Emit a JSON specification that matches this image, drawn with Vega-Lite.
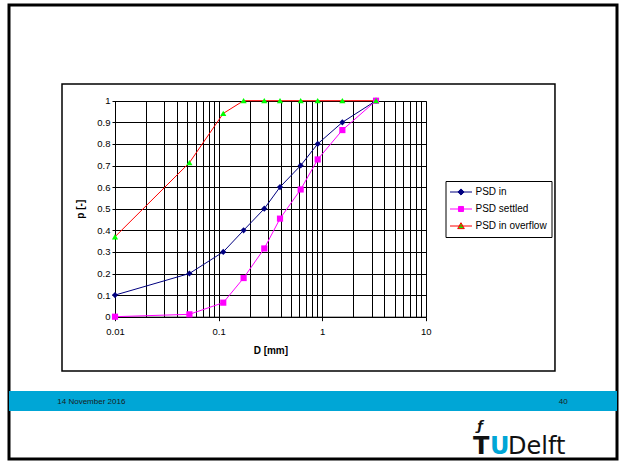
{
  "$schema": "https://vega.github.io/schema/vega-lite/v6.json",
  "width": 608,
  "height": 454,
  "autosize": {"type": "none"},
  "padding": {"left": 9, "top": 5, "right": 4, "bottom": 2},
  "background": "white",
  "config": {"view": {"stroke": "black", "strokeWidth": 3}, "font": "Liberation Sans"},
  "resolve": {"axis": {"x": "independent"}},
  "datasets": {
    "psd": [
      {"D": 0.01, "p": 0.1, "series": "PSD in"},
      {"D": 0.0523, "p": 0.2, "series": "PSD in"},
      {"D": 0.111, "p": 0.3, "series": "PSD in"},
      {"D": 0.1745, "p": 0.4, "series": "PSD in"},
      {"D": 0.2764, "p": 0.5, "series": "PSD in"},
      {"D": 0.392, "p": 0.6, "series": "PSD in"},
      {"D": 0.6207, "p": 0.7, "series": "PSD in"},
      {"D": 0.906, "p": 0.8, "series": "PSD in"},
      {"D": 1.568, "p": 0.9, "series": "PSD in"},
      {"D": 3.314, "p": 1.0, "series": "PSD in"},
      {"D": 0.01, "p": 0.0, "series": "PSD settled"},
      {"D": 0.0523, "p": 0.011, "series": "PSD settled"},
      {"D": 0.111, "p": 0.065, "series": "PSD settled"},
      {"D": 0.1745, "p": 0.179, "series": "PSD settled"},
      {"D": 0.2764, "p": 0.316, "series": "PSD settled"},
      {"D": 0.392, "p": 0.454, "series": "PSD settled"},
      {"D": 0.6207, "p": 0.589, "series": "PSD settled"},
      {"D": 0.906, "p": 0.728, "series": "PSD settled"},
      {"D": 1.568, "p": 0.864, "series": "PSD settled"},
      {"D": 3.314, "p": 1.0, "series": "PSD settled"},
      {"D": 0.01, "p": 0.37, "series": "PSD in overflow"},
      {"D": 0.0523, "p": 0.713, "series": "PSD in overflow"},
      {"D": 0.111, "p": 0.941, "series": "PSD in overflow"},
      {"D": 0.1745, "p": 1.0, "series": "PSD in overflow"},
      {"D": 0.2764, "p": 1.0, "series": "PSD in overflow"},
      {"D": 0.392, "p": 1.0, "series": "PSD in overflow"},
      {"D": 0.6207, "p": 1.0, "series": "PSD in overflow"},
      {"D": 0.906, "p": 1.0, "series": "PSD in overflow"},
      {"D": 1.568, "p": 1.0, "series": "PSD in overflow"},
      {"D": 3.314, "p": 1.0, "series": "PSD in overflow"}
    ]
  },
  "layer": [
    {
      "data": {"name": "psd"},
      "mark": {"type": "line", "strokeWidth": 1},
      "encoding": {
        "x": {
          "field": "D", "type": "quantitative", "title": "D [mm]",
          "scale": {"type": "log", "domain": [0.01, 10], "range": [106, 416.7], "nice": false},
          "axis": {
            "orient": "bottom",
            "values": [0.01, 0.02, 0.03, 0.04, 0.05, 0.06, 0.07, 0.08, 0.09, 0.1, 0.2, 0.3, 0.4, 0.5, 0.6, 0.7, 0.8, 0.9, 1, 2, 3, 4, 5, 6, 7, 8, 9, 10],
            "labelExpr": "(datum.value == 0.01 || datum.value == 0.1 || datum.value == 1 || datum.value == 10) ? format(datum.value, '~g') : ''",
            "offset": -142.3,
            "grid": false,
            "domain": true, "domainColor": "black", "domainWidth": 1,
            "ticks": true, "tickColor": "black", "tickSize": 4, "tickWidth": 1,
            "tickOpacity": {"condition": {"test": "datum.value == 0.01 || datum.value == 0.1 || datum.value == 1 || datum.value == 10", "value": 1}, "value": 0},
            "labelFontSize": 9.5, "labelColor": "black", "labelPadding": 6, "labelFlush": false, "labelOverlap": false, "labelBound": false,
            "title": "D [mm]", "titleFontSize": 10, "titleFontWeight": "bold", "titleColor": "black", "titlePadding": 9
          }
        },
        "y": {
          "field": "p", "type": "quantitative", "title": "p [-]",
          "scale": {"type": "linear", "domain": [0, 1], "range": [311.7, 95.7], "nice": false, "zero": false},
          "axis": {
            "values": [0, 0.1, 0.2, 0.3, 0.4, 0.5, 0.6, 0.7, 0.8, 0.9, 1],
            "format": "~g",
            "offset": -106,
            "grid": true, "gridColor": "black", "gridOpacity": 1, "gridWidth": 1,
            "domain": true, "domainColor": "black", "domainWidth": 1,
            "ticks": true, "tickColor": "black", "tickSize": 3, "tickWidth": 1,
            "labelFontSize": 9.5, "labelColor": "black", "labelPadding": 2, "labelOverlap": false, "labelBound": false,
            "title": "p [-]", "titleFontSize": 10, "titleFontWeight": "bold", "titleColor": "black", "titlePadding": 11
          }
        },
        "stroke": {
          "field": "series", "type": "nominal",
          "scale": {"domain": ["PSD in", "PSD settled", "PSD in overflow"], "range": ["#000080", "#FF00FF", "#FF0000"]},
          "legend": {
            "orient": "none", "legendX": 436.5, "legendY": 176,
            "title": null, "padding": 4, "strokeColor": "black", "fillColor": "white", "cornerRadius": 0,
            "symbolSize": 484, "symbolStrokeWidth": 1, "clipHeight": 14, "rowPadding": 3,
            "labelOffset": 3, "labelFontSize": 10, "labelColor": "black", "labelFont": "Liberation Sans",
            "encode": {
              "symbols": {
                "update": {
                  "shape": {"signal": "datum.value === 'PSD in' ? 'M-1,0L1,0M0,-0.28L0.28,0L0,0.28L-0.28,0Z' : datum.value === 'PSD settled' ? 'M-1,0L1,0M-0.23,-0.23L0.23,-0.23L0.23,0.23L-0.23,0.23Z' : 'M-1,0L1,0M0,-0.3L0.3,0.24L-0.3,0.24Z'"},
                  "fill": {"signal": "datum.value === 'PSD in' ? '#000080' : datum.value === 'PSD settled' ? '#FF00FF' : '#00FF00'"},
                  "stroke": {"signal": "datum.value === 'PSD in' ? '#000080' : datum.value === 'PSD settled' ? '#FF00FF' : '#FF0000'"},
                  "strokeWidth": {"value": 1},
                  "opacity": {"value": 1}
                }
              }
            }
          }
        }
      }
    },
    {
      "data": {"name": "psd"},
      "mark": {"type": "point", "filled": true, "size": 38, "opacity": 1},
      "encoding": {
        "x": {
          "field": "D", "type": "quantitative",
          "scale": {"type": "log", "domain": [0.01, 10], "range": [106, 416.7], "nice": false},
          "axis": {
            "orient": "top",
            "values": [0.01, 0.02, 0.03, 0.04, 0.05, 0.06, 0.07, 0.08, 0.09, 0.1, 0.2, 0.3, 0.4, 0.5, 0.6, 0.7, 0.8, 0.9, 1, 2, 3, 4, 5, 6, 7, 8, 9, 10],
            "grid": true, "gridColor": "black", "gridOpacity": 1, "gridWidth": 1,
            "labels": false, "ticks": false, "domain": false, "title": null
          }
        },
        "y": {"field": "p", "type": "quantitative", "scale": {"type": "linear", "domain": [0, 1], "range": [311.7, 95.7], "nice": false, "zero": false}},
        "shape": {"field": "series", "type": "nominal", "scale": {"domain": ["PSD in overflow", "PSD settled", "PSD in"], "range": ["triangle-up", "square", "diamond"]}, "legend": null},
        "fill": {"field": "series", "type": "nominal", "scale": {"domain": ["PSD in overflow", "PSD settled", "PSD in"], "range": ["#00FF00", "#FF00FF", "#000080"]}, "legend": null}
      }
    },
    {
      "data": {"values": [{}]},
      "mark": {"type": "rect", "fill": "transparent", "stroke": "black", "strokeWidth": 1.5},
      "encoding": {
        "x": {"datum": 0.003078, "type": "quantitative", "scale": {"type": "log", "domain": [0.01, 10], "range": [106, 416.7], "nice": false}, "axis": null},
        "x2": {"datum": 177.1},
        "y": {"datum": 1.0773, "type": "quantitative", "scale": {"type": "linear", "domain": [0, 1], "range": [311.7, 95.7], "nice": false, "zero": false}},
        "y2": {"datum": -0.2514}
      }
    },
    {
      "data": {"values": [{}]},
      "mark": {"type": "rect", "fill": "#00A6D6"},
      "encoding": {
        "y": {"datum": -0.344, "type": "quantitative", "scale": {"type": "linear", "domain": [0, 1], "range": [311.7, 95.7], "nice": false, "zero": false}},
        "y2": {"datum": -0.4366}
      }
    },
    {
      "data": {"values": [{"label": "14 November 2016"}]},
      "mark": {"type": "text", "align": "left", "baseline": "middle", "fontSize": 8, "color": "#1a1a1a"},
      "encoding": {
        "x": {"datum": 0.002773, "type": "quantitative", "scale": {"type": "log", "domain": [0.01, 10], "range": [106, 416.7], "nice": false}, "axis": null},
        "y": {"datum": -0.3963, "type": "quantitative", "scale": {"type": "linear", "domain": [0, 1], "range": [311.7, 95.7], "nice": false, "zero": false}},
        "text": {"field": "label"}
      }
    },
    {
      "data": {"values": [{"label": "40"}]},
      "mark": {"type": "text", "align": "right", "baseline": "middle", "fontSize": 8, "color": "#1a1a1a"},
      "encoding": {
        "x": {"datum": 234.9, "type": "quantitative", "scale": {"type": "log", "domain": [0.01, 10], "range": [106, 416.7], "nice": false}, "axis": null},
        "y": {"datum": -0.3963, "type": "quantitative", "scale": {"type": "linear", "domain": [0, 1], "range": [311.7, 95.7], "nice": false, "zero": false}},
        "text": {"field": "label"}
      }
    },
    {
      "data": {"values": [{"label": "T"}]},
      "mark": {"type": "text", "align": "left", "baseline": "alphabetic", "fontSize": 24, "font": "DejaVu Sans", "fontWeight": "bold", "color": "#111111"},
      "encoding": {
        "x": {"datum": 28.62, "type": "quantitative", "scale": {"type": "log", "domain": [0.01, 10], "range": [106, 416.7], "nice": false}, "axis": null},
        "y": {"datum": -0.6356, "type": "quantitative", "scale": {"type": "linear", "domain": [0, 1], "range": [311.7, 95.7], "nice": false, "zero": false}},
        "text": {"field": "label"}
      }
    },
    {
      "data": {"values": [{"label": "U"}]},
      "mark": {"type": "text", "align": "left", "baseline": "alphabetic", "fontSize": 24, "font": "DejaVu Sans", "fontWeight": "bold", "color": "#00A6D6"},
      "encoding": {
        "x": {"datum": 41.75, "type": "quantitative", "scale": {"type": "log", "domain": [0.01, 10], "range": [106, 416.7], "nice": false}, "axis": null},
        "y": {"datum": -0.6356, "type": "quantitative", "scale": {"type": "linear", "domain": [0, 1], "range": [311.7, 95.7], "nice": false, "zero": false}},
        "text": {"field": "label"}
      }
    },
    {
      "data": {"values": [{"label": "Delft"}]},
      "mark": {"type": "text", "align": "left", "baseline": "alphabetic", "fontSize": 24, "font": "DejaVu Sans", "color": "#111111"},
      "encoding": {
        "x": {"datum": 62.31, "type": "quantitative", "scale": {"type": "log", "domain": [0.01, 10], "range": [106, 416.7], "nice": false}, "axis": null},
        "y": {"datum": -0.6356, "type": "quantitative", "scale": {"type": "linear", "domain": [0, 1], "range": [311.7, 95.7], "nice": false, "zero": false}},
        "text": {"field": "label"}
      }
    },
    {
      "data": {"values": [{"label": "ƒ"}]},
      "mark": {"type": "text", "align": "center", "baseline": "alphabetic", "fontSize": 13, "font": "DejaVu Sans", "fontWeight": "bold", "fontStyle": "italic", "color": "#111111"},
      "encoding": {
        "x": {"datum": 33.5, "type": "quantitative", "scale": {"type": "log", "domain": [0.01, 10], "range": [106, 416.7], "nice": false}, "axis": null},
        "y": {"datum": -0.5245, "type": "quantitative", "scale": {"type": "linear", "domain": [0, 1], "range": [311.7, 95.7], "nice": false, "zero": false}},
        "text": {"field": "label"}
      }
    }
  ]
}
